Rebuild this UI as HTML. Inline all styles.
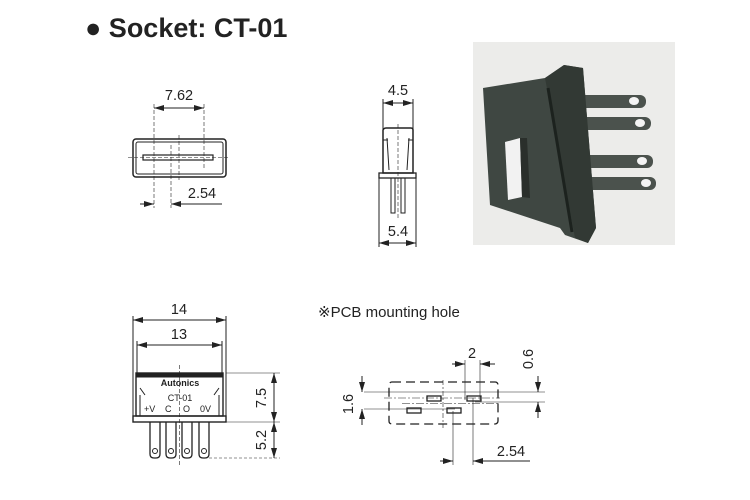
<!DOCTYPE html>
<html><head><style>
html,body{margin:0;padding:0;background:#fff;}
svg{display:block;}
text{font-family:"Liberation Sans",Arial,sans-serif;fill:#222;}
</style></head><body>
<svg width="750" height="500" viewBox="0 0 750 500" xmlns="http://www.w3.org/2000/svg">
<defs>
<marker id="a" viewBox="0 0 10 6" refX="10" refY="3" markerWidth="10" markerHeight="6" orient="auto-start-reverse" markerUnits="userSpaceOnUse"><path d="M0,0 L10,3 L0,6 z" fill="#222"/></marker>
</defs>
<text x="85" y="37" font-size="27" font-weight="bold">● Socket: CT-01</text>

<g stroke="#222" fill="none" stroke-width="1">
<!-- front view -->
<rect x="133" y="139" width="93" height="38" rx="3" stroke-width="1.5"/>
<rect x="136" y="142" width="87" height="32" rx="2"/>
<rect x="143" y="155" width="70" height="5" stroke-width="1.2"/>
<line x1="128" y1="157.5" x2="230" y2="157.5" stroke-dasharray="4,2" stroke-width="0.6"/>
<line x1="154" y1="104" x2="154" y2="208" stroke-dasharray="4,2" stroke-width="0.6"/>
<line x1="171" y1="145" x2="171" y2="208" stroke-dasharray="4,2" stroke-width="0.6"/>
<line x1="179" y1="135" x2="179" y2="180" stroke-dasharray="4,2" stroke-width="0.6"/>
<line x1="204" y1="104" x2="204" y2="170" stroke-dasharray="4,2" stroke-width="0.6"/>
<line x1="154" y1="108" x2="204" y2="108" marker-start="url(#a)" marker-end="url(#a)"/>
<line x1="140" y1="204" x2="154" y2="204" marker-end="url(#a)"/>
<line x1="222" y1="204" x2="171" y2="204" marker-end="url(#a)"/>

<!-- side view -->
<path d="M383,130 Q384,128 386,128 L411,128 Q413,128 413,130 L413,173 L383,173 Z" stroke-width="1.5"/>
<path d="M387,138 L389,170 M409,138 L407,170 M383,140 L388,140 M413,140 L408,140"/>
<line x1="398" y1="124" x2="398" y2="218" stroke-dasharray="4,2" stroke-width="0.6"/>
<rect x="379" y="173" width="37" height="5" stroke-width="1.3"/>
<rect x="391" y="178" width="4" height="35"/>
<rect x="401" y="178" width="4" height="35"/>
<line x1="383" y1="99" x2="383" y2="130"/>
<line x1="413" y1="99" x2="413" y2="130"/>
<line x1="383" y1="103" x2="413" y2="103" marker-start="url(#a)" marker-end="url(#a)"/>
<line x1="379" y1="178" x2="379" y2="247"/>
<line x1="416" y1="178" x2="416" y2="247"/>
<line x1="379" y1="243" x2="416" y2="243" marker-start="url(#a)" marker-end="url(#a)"/>

<!-- bottom view -->
<rect x="136" y="373" width="87" height="43" stroke-width="1.4"/>
<rect x="136" y="373" width="87" height="4" fill="#222"/>
<path d="M140,388 L145,395 M219,388 L214,395 M140,395 L140,416 M219,395 L219,416"/>
<rect x="133" y="416" width="93" height="6" stroke-width="1.4"/>
<g stroke-width="1.3">
<path d="M150,422 L150,454 Q150,458 154,458 L156,458 Q160,458 160,454 L160,422"/>
<path d="M166,422 L166,454 Q166,458 170,458 L172,458 Q176,458 176,454 L176,422"/>
<path d="M182,422 L182,454 Q182,458 186,458 L188,458 Q192,458 192,454 L192,422"/>
<path d="M199,422 L199,454 Q199,458 203,458 L205,458 Q209,458 209,454 L209,422"/>
</g>
<circle cx="155" cy="451" r="2.5"/><circle cx="171" cy="451" r="2.5"/><circle cx="187" cy="451" r="2.5"/><circle cx="204" cy="451" r="2.5"/>
<line x1="179.5" y1="365" x2="179.5" y2="465" stroke-dasharray="4,2" stroke-width="0.6"/>
<line x1="133" y1="316" x2="133" y2="416"/>
<line x1="226" y1="316" x2="226" y2="416"/>
<line x1="137" y1="341" x2="137" y2="373"/>
<line x1="222" y1="341" x2="222" y2="373"/>
<line x1="133" y1="320" x2="226" y2="320" marker-start="url(#a)" marker-end="url(#a)"/>
<line x1="137" y1="345" x2="222" y2="345" marker-start="url(#a)" marker-end="url(#a)"/>
<line x1="226" y1="373" x2="280" y2="373" stroke-width="0.6"/>
<line x1="226" y1="422" x2="280" y2="422" stroke-width="0.6"/>
<line x1="209" y1="458" x2="280" y2="458" stroke-width="0.6" stroke-dasharray="3,2"/>
<line x1="274" y1="373" x2="274" y2="422" marker-start="url(#a)" marker-end="url(#a)"/>
<line x1="274" y1="422" x2="274" y2="458" marker-start="url(#a)" marker-end="url(#a)"/>

<!-- PCB hole -->
<rect x="389" y="382" width="109" height="42" rx="3" stroke-dasharray="9,5" stroke-width="1.3"/>
<line x1="384" y1="398" x2="500" y2="398" stroke-dasharray="8,2,2,2" stroke-width="0.6"/>
<line x1="402" y1="403.5" x2="498" y2="403.5" stroke-dasharray="8,2,2,2" stroke-width="0.6"/>
<line x1="364" y1="392" x2="545" y2="392" stroke-width="0.6"/>
<line x1="475" y1="402" x2="545" y2="402" stroke-width="0.6"/>
<line x1="364" y1="409" x2="455" y2="409" stroke-width="0.6"/>
<line x1="443" y1="380" x2="443" y2="428" stroke-dasharray="5,2,2,2" stroke-width="0.6"/>
<rect x="427" y="396" width="14" height="5" stroke-width="1.3"/>
<rect x="467" y="396" width="14" height="5" stroke-width="1.3"/>
<rect x="407" y="408" width="14" height="5" stroke-width="1.3"/>
<rect x="447" y="408" width="14" height="5" stroke-width="1.3"/>
<line x1="465" y1="360" x2="465" y2="400" stroke-width="0.6"/>
<line x1="480" y1="360" x2="480" y2="400" stroke-width="0.6"/>
<line x1="452" y1="364" x2="465" y2="364" marker-end="url(#a)"/>
<line x1="495" y1="364" x2="480" y2="364" marker-end="url(#a)"/>
<line x1="538" y1="376" x2="538" y2="392" marker-end="url(#a)"/>
<line x1="538" y1="418" x2="538" y2="402" marker-end="url(#a)"/>
<line x1="362" y1="376" x2="362" y2="392" marker-end="url(#a)"/>
<line x1="362" y1="425" x2="362" y2="409" marker-end="url(#a)"/>
<line x1="453" y1="411" x2="453" y2="465" stroke-width="0.6"/>
<line x1="473" y1="398" x2="473" y2="465" stroke-width="0.6"/>
<line x1="440" y1="461" x2="453" y2="461" marker-end="url(#a)"/>
<line x1="530" y1="461" x2="473" y2="461" marker-end="url(#a)"/>
</g>

<g font-size="14.5">
<text x="179" y="100" text-anchor="middle">7.62</text>
<text x="202" y="198" text-anchor="middle">2.54</text>
<text x="398" y="95" text-anchor="middle">4.5</text>
<text x="398" y="236" text-anchor="middle">5.4</text>
<text x="179" y="314" text-anchor="middle">14</text>
<text x="179" y="339" text-anchor="middle">13</text>
<text transform="translate(266,398) rotate(-90)" text-anchor="middle">7.5</text>
<text transform="translate(266,440) rotate(-90)" text-anchor="middle">5.2</text>
<text x="318" y="317" font-size="15">※PCB mounting hole</text>
<text x="472" y="358" text-anchor="middle">2</text>
<text transform="translate(533,359) rotate(-90)" text-anchor="middle">0.6</text>
<text transform="translate(353,404) rotate(-90)" text-anchor="middle">1.6</text>
<text x="511" y="456" text-anchor="middle">2.54</text>
</g>
<g font-size="9">
<text x="180" y="386" text-anchor="middle" font-weight="bold" font-family="Liberation Serif">Autonics</text>
<text x="180" y="401" text-anchor="middle">CT-01</text>
<text x="144" y="412">+V</text><text x="165" y="412">C</text><text x="183" y="412">O</text><text x="200" y="412">0V</text>
</g>

<!-- photo -->
<rect x="473" y="42" width="202" height="203" fill="#ececea"/>
<g>
<g fill="#4b524d">
<rect x="575" y="95" width="71" height="13" rx="6"/>
<rect x="578" y="117" width="73" height="13" rx="6"/>
<rect x="582" y="155" width="71" height="13" rx="6"/>
<rect x="585" y="177" width="71" height="13" rx="6"/>
</g>
<path d="M483,88 L545,78 L564,65 L583,68 L596,228 L588,243 L565,235 L560,228 L490,205 Z" fill="#3f4742"/>
<path d="M545,78 L564,65 L583,68 L596,228 L588,243 L575,238 Z" fill="#323934"/>
<path d="M548,88 L572,232" stroke="#1c221e" stroke-width="3"/>
<path d="M505,142 L520,138 L522,197 L508,200 Z" fill="#f2f2f2"/>
<path d="M520,138 L527,138 L530,198 L522,197 Z" fill="#2a2f2b"/>
<g fill="#f4f4f4">
<ellipse cx="634" cy="101" rx="5" ry="4"/><ellipse cx="640" cy="123" rx="5" ry="4"/>
<ellipse cx="642" cy="161" rx="5" ry="4"/><ellipse cx="646" cy="183" rx="5" ry="4"/>
</g>
</g>
</svg>
</body></html>
